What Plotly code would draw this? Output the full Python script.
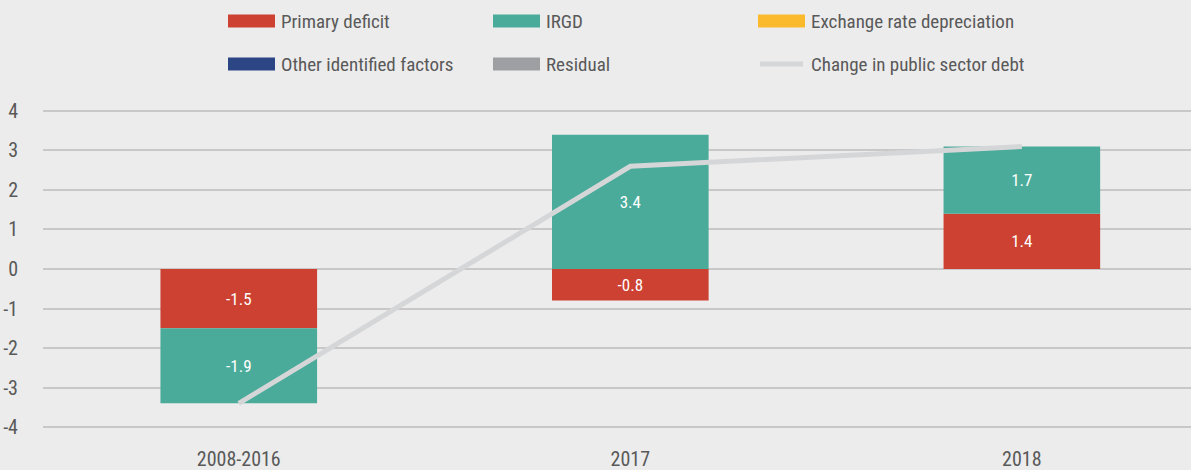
import plotly.graph_objects as go

categories = ["2008-2016", "2017", "2018"]
primary_deficit = [-1.5, -0.8, 1.4]
irgd = [-1.9, 3.4, 1.7]
exchange_rate = [0, 0, 0]
other_factors = [0, 0, 0]
residual = [0, 0, 0]
debt_change = [-3.4, 2.6, 3.1]
y_ticks = [-4, -3, -2, -1, 0, 1, 2, 3, 4]

FONT = "Roboto Condensed, Liberation Sans Narrow, DejaVu Sans Condensed, sans-serif"
TXT = "#595959"
colors = {
    "Primary deficit": "#cc4131",
    "IRGD": "#4aab9a",
    "Exchange rate depreciation": "#fbb92c",
    "Other identified factors": "#2c4584",
    "Residual": "#9e9fa3",
    "Change in public sector debt": "#d5d6d8",
}

W, H = 1191, 470
ML, MR, MT, MB = 43, 0, 109, 41
PW, PH = W - ML - MR, H - MT - MB

def px2x(px):
    return (px - ML) / PW

def py2y(py):
    return (H - MB - py) / PH

fig = go.Figure()

def bar(name, vals, labels=True):
    fig.add_trace(go.Bar(
        x=categories, y=vals, name=name, width=0.4,
        marker=dict(color=colors[name], line=dict(width=0)),
        text=[f"{v:.1f}" if v != 0 else "" for v in vals] if labels else None,
        textposition="inside", insidetextanchor="middle",
        textfont=dict(color="white", size=17, family=FONT),
        showlegend=False, hoverinfo="skip",
    ))

bar("Primary deficit", primary_deficit)
bar("IRGD", irgd)
bar("Exchange rate depreciation", exchange_rate, False)
bar("Other identified factors", other_factors, False)
bar("Residual", residual, False)

fig.add_trace(go.Scatter(
    x=categories, y=debt_change, mode="lines", name="Change in public sector debt",
    line=dict(color=colors["Change in public sector debt"], width=5),
    showlegend=False, hoverinfo="skip",
))

# Manual legend (3 columns x 2 rows)
legend_items = [
    ("Primary deficit", 228, 21, "bar"),
    ("IRGD", 493, 21, "bar"),
    ("Exchange rate depreciation", 758, 21, "bar"),
    ("Other identified factors", 228, 64, "bar"),
    ("Residual", 493, 64, "bar"),
    ("Change in public sector debt", 758, 64, "line"),
]
shapes = []
annotations = []
for name, px, py, kind in legend_items:
    if kind == "bar":
        shapes.append(dict(type="rect", xref="paper", yref="paper",
                           x0=px2x(px), x1=px2x(px + 47),
                           y0=py2y(py + 6.5), y1=py2y(py - 6.5),
                           fillcolor=colors[name], line=dict(width=0), layer="above"))
    else:
        shapes.append(dict(type="line", xref="paper", yref="paper",
                           x0=px2x(px + 2), x1=px2x(px + 45),
                           y0=py2y(py), y1=py2y(py),
                           line=dict(color=colors[name], width=5), layer="above"))
    annotations.append(dict(text=name, xref="paper", yref="paper",
                            x=px2x(px + 51), y=py2y(py),
                            xanchor="left", yanchor="middle", showarrow=False,
                            font=dict(size=19, color=TXT, family=FONT)))

fig.update_layout(
    width=W, height=H,
    barmode="relative",
    paper_bgcolor="#ececec", plot_bgcolor="#ececec",
    margin=dict(l=ML, r=MR, t=MT, b=MB),
    showlegend=False,
    shapes=shapes, annotations=annotations,
    font=dict(family=FONT, color=TXT, size=18),
)
fig.update_xaxes(range=[-0.5, 2.432], showgrid=False, showline=False, zeroline=False,
                 ticks="outside", ticklen=12, tickcolor="rgba(0,0,0,0)",
                 tickfont=dict(size=20, color=TXT, family=FONT))
fig.update_yaxes(range=[-4.05, 4.05], tickvals=y_ticks, ticktext=[str(t) for t in y_ticks],
                 showgrid=True, gridcolor="#c8c8c8", gridwidth=2,
                 zeroline=True, zerolinecolor="#c8c8c8", zerolinewidth=2,
                 showline=False, ticks="outside", ticklen=20, tickcolor="rgba(0,0,0,0)",
                 tickfont=dict(size=20, color=TXT, family=FONT))

fig.write_html("out.html", post_script="document.body.style.margin='0';",
               config={"displayModeBar": False})
